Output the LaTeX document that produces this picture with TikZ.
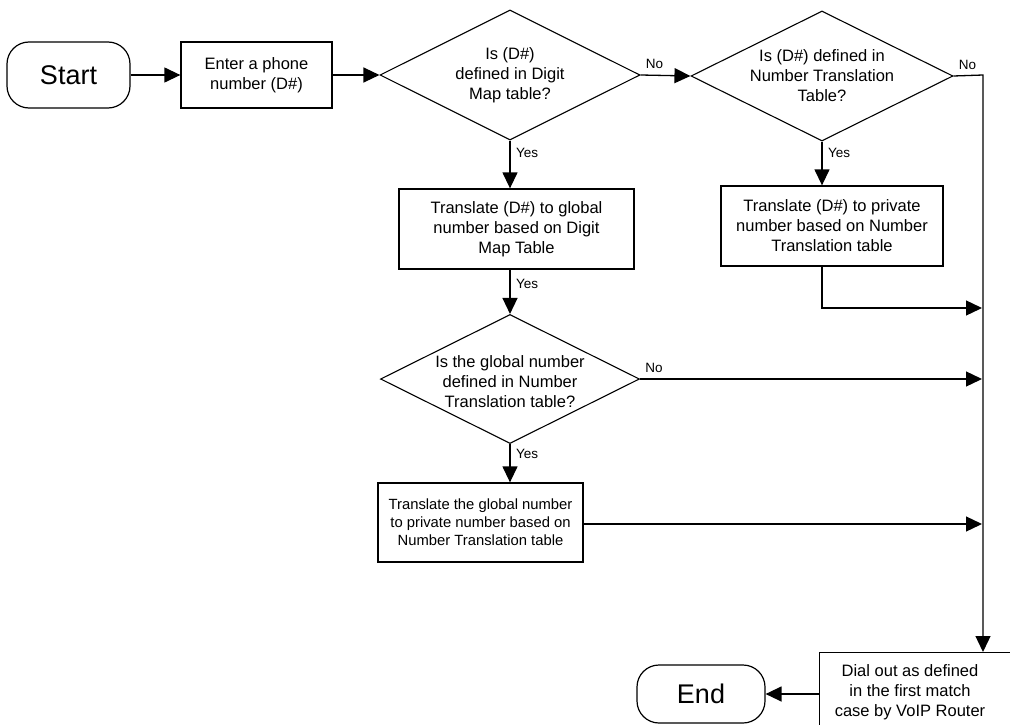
\documentclass[tikz,border=0pt]{standalone}
\usepackage{fontspec}
\setmainfont{Liberation Sans}
\usetikzlibrary{shapes.geometric,arrows.meta,calc}
\begin{document}
\begin{tikzpicture}[x=1pt,y=-1pt,
  every node/.style={font=\fontsize{16.5}{20}\selectfont},
  box/.style={draw,line width=1.3pt,align=center,inner sep=0pt},
  term/.style={draw,line width=1.2pt,rounded corners=22pt,inner sep=0pt,font=\fontsize{27}{30}\selectfont},
  dia/.style={draw,diamond,line width=1.1pt,inner sep=0pt},
  dtext/.style={align=center,inner sep=0pt},
  lbl/.style={font=\fontsize{13.5}{15}\selectfont,inner sep=0pt},
  arr/.style={line width=1.3pt,-{Triangle[length=16pt,width=15pt]}}]
\clip (0,0) rectangle (1010,725);
\fill[white] (0,0) rectangle (1010,725);
% nodes
\node[term, minimum width=123pt, minimum height=66pt] (start) at (68.5,75) {Start};
\node[box, minimum width=151pt, minimum height=66pt] (enter) at (256.5,75) {Enter a phone\\number (D\#)};
\node[dia, minimum width=260pt, minimum height=130pt] (d1) at (510,75) {};
\node[dtext] (d1t) at (d1) {Is (D\#)\\defined in Digit\\Map table?};
\node[dia, minimum width=262pt, minimum height=130pt] (d2) at (822,76) {};
\node[dtext] (d2t) at (d2) {Is (D\#) defined in\\Number Translation\\Table?};
\node[box, minimum width=235pt, minimum height=80pt] (b3) at (516.5,229) {Translate (D\#) to global\\number based on Digit\\Map Table};
\node[box, minimum width=222pt, minimum height=80pt] (b4) at (832,226) {Translate (D\#) to private\\number based on Number\\Translation table};
\node[dia, minimum width=259pt, minimum height=129pt] (d3) at (510,379) {};
\node[dtext] (d3t) at ($(d3)+(0,3)$) {Is the global number\\defined in Number\\Translation table?};
\node[box, minimum width=205pt, minimum height=79pt, font=\fontsize{14.8}{18}\selectfont] (b5) at (480.5,522.5) {Translate the global number\\to private number based on\\Number Translation table};
\node[box, minimum width=200pt, minimum height=84pt, anchor=north west] (b6) at (819,652) {};
\node[dtext] (b6t) at (910,692) {Dial out as defined\\in the first match\\case by VoIP Router};
\node[term, minimum width=128pt, minimum height=58pt] (end) at (701,694) {End};
% coordinates on the merge line
\coordinate (c1) at (983,75);
\coordinate (t4) at (982,308);
\coordinate (t3) at (982,379);
\coordinate (t5) at (982,524);
% connectors
\draw[arr] (start) -- (enter);
\draw[arr] (enter) -- (d1.west);
\draw[arr] (d1.east) -- (d2.west);
\draw[arr] (d2.east) -- (c1) -- (c1 |- b6.north);
\draw[arr] (d1.south) -- (d1.south |- b3.north);
\draw[arr] (d3.north |- b3.south) -- (d3.north);
\draw[arr] (d3.south) -- (d3.south |- b5.north);
\draw[arr] (d2.south) -- (d2.south |- b4.north);
\draw[arr] (d2.south |- b4.south) -- (d2.south |- t4) -- (t4);
\draw[arr] (d3.east) -- (t3);
\draw[arr] (b5.east |- t5) -- (t5);
\draw[arr] (b6.west |- end) -- (end);
% labels
\node[lbl, anchor=south west] (n1) at ($(d1.east)+(5,-6)$) {No};
\node[lbl, anchor=south west] (n2) at ($(d2.east)+(5,-6)$) {No};
\node[lbl, anchor=south west] (n3) at ($(d3.east)+(5,-6)$) {No};
\node[lbl, anchor=west] (y1) at ($(d1.south)+(6,12)$) {Yes};
\node[lbl, anchor=west] (y2) at ($(d3.north |- b3.south)+(6,14)$) {Yes};
\node[lbl, anchor=west] (y3) at ($(d3.south)+(6,10)$) {Yes};
\node[lbl, anchor=west] (y4) at ($(d2.south)+(6,11)$) {Yes};
\end{tikzpicture}
\end{document}
